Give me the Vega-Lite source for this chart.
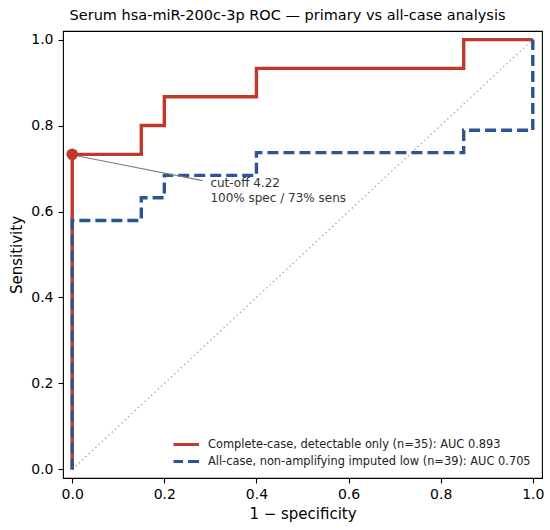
{
  "$schema": "https://vega.github.io/schema/vega-lite/v6.json",
  "width": 479,
  "height": 447,
  "autosize": {"type": "none"},
  "padding": {"left": 63, "top": 31, "right": 8, "bottom": 52},
  "title": {
    "text": "Serum hsa-miR-200c-3p ROC — primary vs all-case analysis",
    "fontSize": 14.5,
    "fontWeight": "normal",
    "color": "#000",
    "dx": -15,
    "offset": 8
  },
  "datasets": {
    "roc": [
      {"series": "Complete-case, detectable only (n=35): AUC 0.893", "ord": 0, "fpr": 0, "tpr": 0},
      {"series": "Complete-case, detectable only (n=35): AUC 0.893", "ord": 1, "fpr": 0, "tpr": 0.733},
      {"series": "Complete-case, detectable only (n=35): AUC 0.893", "ord": 2, "fpr": 0.15, "tpr": 0.733},
      {"series": "Complete-case, detectable only (n=35): AUC 0.893", "ord": 3, "fpr": 0.15, "tpr": 0.8},
      {"series": "Complete-case, detectable only (n=35): AUC 0.893", "ord": 4, "fpr": 0.2, "tpr": 0.8},
      {"series": "Complete-case, detectable only (n=35): AUC 0.893", "ord": 5, "fpr": 0.2, "tpr": 0.867},
      {"series": "Complete-case, detectable only (n=35): AUC 0.893", "ord": 6, "fpr": 0.4, "tpr": 0.867},
      {"series": "Complete-case, detectable only (n=35): AUC 0.893", "ord": 7, "fpr": 0.4, "tpr": 0.933},
      {"series": "Complete-case, detectable only (n=35): AUC 0.893", "ord": 8, "fpr": 0.85, "tpr": 0.933},
      {"series": "Complete-case, detectable only (n=35): AUC 0.893", "ord": 9, "fpr": 0.85, "tpr": 1},
      {"series": "Complete-case, detectable only (n=35): AUC 0.893", "ord": 10, "fpr": 1, "tpr": 1},
      {"series": "All-case, non-amplifying imputed low (n=39): AUC 0.705", "ord": 0, "fpr": 0, "tpr": 0},
      {"series": "All-case, non-amplifying imputed low (n=39): AUC 0.705", "ord": 1, "fpr": 0, "tpr": 0.579},
      {"series": "All-case, non-amplifying imputed low (n=39): AUC 0.705", "ord": 2, "fpr": 0.15, "tpr": 0.579},
      {"series": "All-case, non-amplifying imputed low (n=39): AUC 0.705", "ord": 3, "fpr": 0.15, "tpr": 0.632},
      {"series": "All-case, non-amplifying imputed low (n=39): AUC 0.705", "ord": 4, "fpr": 0.2, "tpr": 0.632},
      {"series": "All-case, non-amplifying imputed low (n=39): AUC 0.705", "ord": 5, "fpr": 0.2, "tpr": 0.684},
      {"series": "All-case, non-amplifying imputed low (n=39): AUC 0.705", "ord": 6, "fpr": 0.4, "tpr": 0.684},
      {"series": "All-case, non-amplifying imputed low (n=39): AUC 0.705", "ord": 7, "fpr": 0.4, "tpr": 0.737},
      {"series": "All-case, non-amplifying imputed low (n=39): AUC 0.705", "ord": 8, "fpr": 0.85, "tpr": 0.737},
      {"series": "All-case, non-amplifying imputed low (n=39): AUC 0.705", "ord": 9, "fpr": 0.85, "tpr": 0.789},
      {"series": "All-case, non-amplifying imputed low (n=39): AUC 0.705", "ord": 10, "fpr": 1, "tpr": 0.789},
      {"series": "All-case, non-amplifying imputed low (n=39): AUC 0.705", "ord": 11, "fpr": 1, "tpr": 1}
    ]
  },
  "encoding": {
    "x": {
      "field": "fpr",
      "type": "quantitative",
      "scale": {"domain": [-0.02, 1.02], "nice": false, "zero": false},
      "axis": {"title": "1 − specificity", "values": [0, 0.2, 0.4, 0.6, 0.8, 1], "format": ".1f"}
    },
    "y": {
      "field": "tpr",
      "type": "quantitative",
      "scale": {"domain": [-0.02, 1.02], "nice": false, "zero": false},
      "axis": {"title": "Sensitivity", "values": [0, 0.2, 0.4, 0.6, 0.8, 1], "format": ".1f"}
    }
  },
  "layer": [
    {
      "data": {"values": [{"fpr": 0, "tpr": 0}, {"fpr": 1, "tpr": 1}]},
      "mark": {"type": "line", "color": "#aaaaaa", "strokeWidth": 1.3, "strokeDash": [1.5, 3]}
    },
    {
      "data": {"name": "roc"},
      "mark": {"type": "line", "strokeWidth": 3.4},
      "encoding": {
        "order": {"field": "ord", "type": "quantitative"},
        "color": {
          "field": "series",
          "type": "nominal",
          "sort": null,
          "scale": {
            "domain": ["Complete-case, detectable only (n=35): AUC 0.893", "All-case, non-amplifying imputed low (n=39): AUC 0.705"],
            "range": ["#c0392b", "#2c5599"]
          }
        },
        "strokeDash": {
          "field": "series",
          "type": "nominal",
          "sort": null,
          "scale": {
            "domain": ["Complete-case, detectable only (n=35): AUC 0.893", "All-case, non-amplifying imputed low (n=39): AUC 0.705"],
            "range": [[1, 0], [11, 5]]
          }
        }
      }
    },
    {
      "data": {"values": [{"fpr": 0.283, "tpr": 0.672, "fpr2": 0.004, "tpr2": 0.731}]},
      "mark": {"type": "rule", "color": "#808080", "strokeWidth": 1.2},
      "encoding": {"x2": {"field": "fpr2"}, "y2": {"field": "tpr2"}}
    },
    {
      "data": {"values": [{"fpr": 0, "tpr": 0.733}]},
      "mark": {"type": "point", "shape": "circle", "filled": true, "opacity": 1, "color": "#c0392b", "size": 133}
    },
    {
      "data": {"values": [{"fpr": 0.3, "tpr": 0.678, "label": "cut-off 4.22\n100% spec / 73% sens"}]},
      "mark": {"type": "text", "align": "left", "baseline": "top", "fontSize": 12, "lineHeight": 15, "lineBreak": "\n", "color": "#333333"},
      "encoding": {"text": {"field": "label"}}
    }
  ],
  "config": {
    "font": "DejaVu Sans",
    "view": {"stroke": "#000", "strokeWidth": 1.1},
    "axis": {
      "grid": false,
      "domain": false,
      "tickColor": "#000",
      "tickWidth": 1.1,
      "tickSize": 5,
      "labelColor": "#000",
      "labelFontSize": 14,
      "labelFlush": false,
      "labelOverlap": false,
      "titleFontSize": 15,
      "titleColor": "#000",
      "titleFontWeight": "normal"
    },
    "axisX": {"labelPadding": 4, "titlePadding": 5},
    "axisY": {"labelPadding": 5, "titlePadding": 6},
    "legend": {
      "orient": "none",
      "legendX": 110.5,
      "legendY": 405,
      "title": null,
      "padding": 0,
      "labelFontSize": 11.4,
      "labelColor": "#222",
      "labelLimit": 600,
      "labelOffset": 10.5,
      "symbolType": "M-1.35,0H1.35",
      "symbolStrokeWidth": 3.2,
      "symbolSize": 400,
      "rowPadding": 0,
      "clipHeight": 17
    }
  }
}
